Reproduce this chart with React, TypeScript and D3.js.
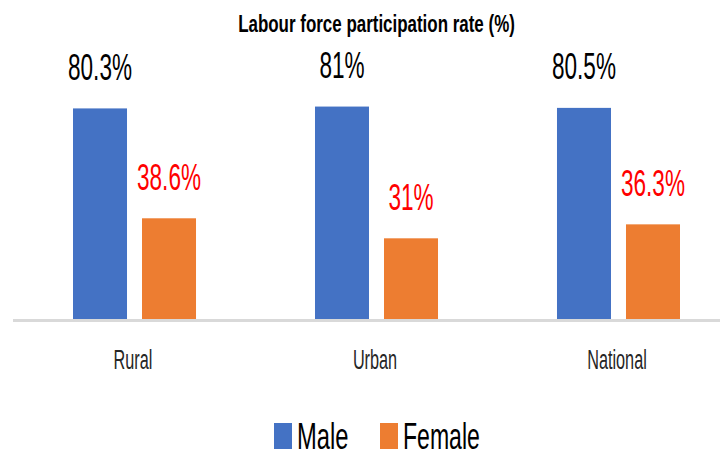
import React from "react";
import * as d3 from "d3";

const categories = ["Rural", "Urban", "National"];
const seriesNames = ["Male", "Female"];
const maleValues = [80.3, 81, 80.5];
const femaleValues = [38.6, 31, 36.3];
const maleLabels = ["80.3%", "81%", "80.5%"];
const femaleLabels = ["38.6%", "31%", "36.3%"];
const title = "Labour force participation rate (%)";

const COLORS: Record<string, string> = { Male: "#4472C4", Female: "#ED7D31" };
const LABEL_COLORS: Record<string, string> = { Male: "#000000", Female: "#FF0000" };
const FONT = "'Liberation Sans', Arial, sans-serif";

export default function App() {
  const W = 720;
  const H = 455;
  const baseY = 320;

  const x0 = d3
    .scaleBand<string>()
    .domain(categories)
    .range([13.5, 739.5])
    .paddingInner(0.4917)
    .paddingOuter(0.2459);
  const x1 = d3
    .scaleBand<string>()
    .domain(seriesNames)
    .range([0, x0.bandwidth()])
    .paddingInner(0.2174)
    .paddingOuter(0);
  const y = d3.scaleLinear().domain([0, 100]).range([baseY, baseY - 263.5]);

  const series = [
    { name: "Male", values: maleValues, labels: maleLabels },
    { name: "Female", values: femaleValues, labels: femaleLabels },
  ];

  const scaledText = (
    key: string,
    tx: number,
    ty: number,
    sx: number,
    text: string,
    size: number,
    fill: string,
    anchor: "middle" | "start",
    weight: string | number = "normal"
  ) => (
    <text
      key={key}
      transform={`translate(${tx},${ty}) scale(${sx},1)`}
      textAnchor={anchor}
      fontFamily={FONT}
      fontSize={size}
      fontWeight={weight}
      fill={fill}
    >
      {text}
    </text>
  );

  return (
    <svg
      width={W}
      height={H}
      style={{ position: "absolute", left: 0, top: 0, background: "#fff" }}
    >
      <rect x={0} y={0} width={W} height={H} fill="#ffffff" />
      {scaledText("title", 376.5, 32, 0.737, title, 23, "#000", "middle", "bold")}

      {series.map((s) =>
        categories.map((c, i) => {
          const bx = (x0(c) ?? 0) + (x1(s.name) ?? 0);
          const bw = x1.bandwidth();
          const top = y(s.values[i]);
          return (
            <g key={s.name + c}>
              <rect x={bx} y={top} width={bw} height={baseY - top} fill={COLORS[s.name]} />
              {scaledText(
                "lbl" + s.name + c,
                bx + bw / 2,
                top - 28.5,
                0.61,
                s.labels[i],
                37,
                LABEL_COLORS[s.name],
                "middle"
              )}
            </g>
          );
        })
      )}

      <line x1={13} x2={720} y1={320.5} y2={320.5} stroke="#d9d9d9" strokeWidth={3} />

      {categories.map((c) =>
        scaledText(
          "cat" + c,
          (x0(c) ?? 0) + x0.bandwidth() / 2 - 1.5,
          369,
          0.58,
          c,
          28,
          "#262626",
          "middle"
        )
      )}

      {/* legend */}
      <rect x={274} y={423} width={18} height={26} fill={COLORS.Male} />
      {scaledText("legM", 297, 449, 0.66, "Male", 36, "#000", "start")}
      <rect x={380} y={423} width={18} height={26} fill={COLORS.Female} />
      {scaledText("legF", 403, 449, 0.64, "Female", 36, "#000", "start")}
    </svg>
  );
}
